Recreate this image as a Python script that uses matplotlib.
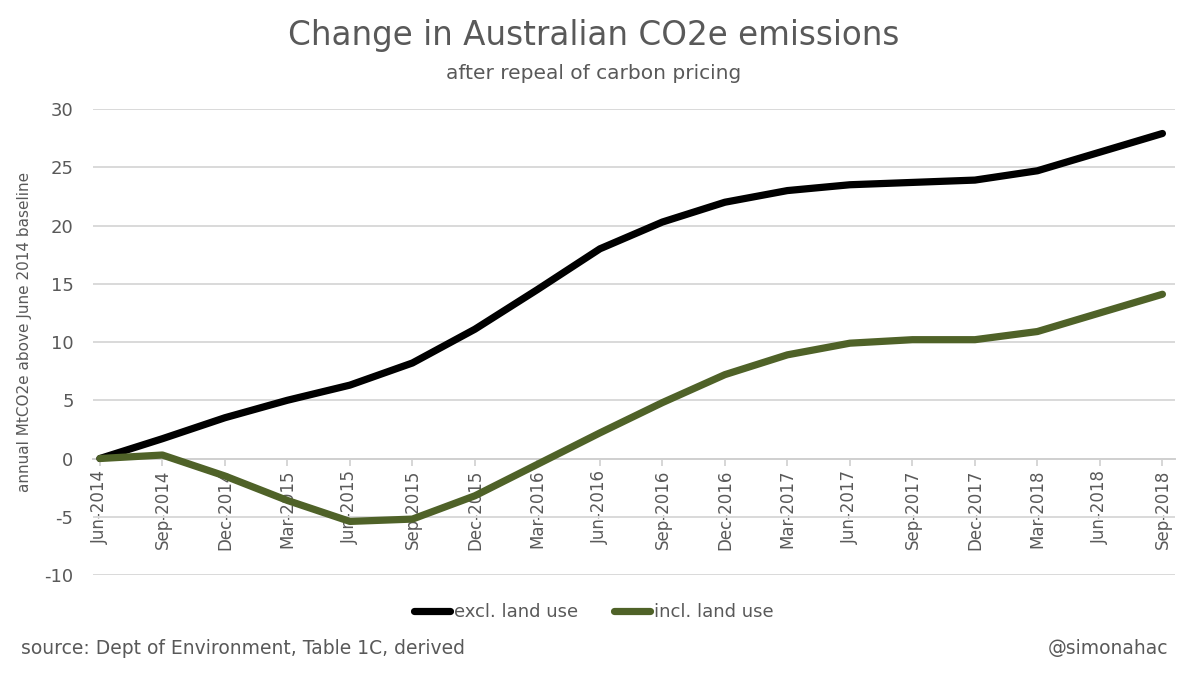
import numpy as np
import matplotlib.pyplot as plt

# quarters from Jun-2014 to Sep-2018
quarters = ['Jun-2014', 'Sep-2014', 'Dec-2014', 'Mar-2015', 'Jun-2015', 'Sep-2015',
            'Dec-2015', 'Mar-2016', 'Jun-2016', 'Sep-2016', 'Dec-2016', 'Mar-2017',
            'Jun-2017', 'Sep-2017', 'Dec-2017', 'Mar-2018', 'Jun-2018', 'Sep-2018']

# change in annual emissions (MtCO2e) vs June 2014
excl_land = [0.0, 1.7, 3.5, 5.0, 6.3, 8.2, 11.1, 14.5, 18.0, 20.3, 22.0, 23.0,
             23.5, 23.7, 23.9, 24.7, 26.3, 27.9]
incl_land = [0.0, 0.3, -1.5, -3.6, -5.4, -5.2, -3.2, -0.5, 2.2, 4.8, 7.2, 8.9,
             9.9, 10.2, 10.2, 10.9, 12.5, 14.1]

yticks = [-10, -5, 0, 5, 10, 15, 20, 25, 30]

grey = '#595959'
green = '#4f6228'

plt.rcParams['font.family'] = ['DejaVu Sans']

fig = plt.figure(figsize=(11.88, 6.78), dpi=100)
ax = fig.add_axes([0.0783, 0.1519, 0.9107, 0.6873])

x = np.arange(len(quarters))
ax.plot(x, excl_land, color='black', lw=5.2, solid_capstyle='round',
        solid_joinstyle='round', label='excl. land use', zorder=3)
ax.plot(x, incl_land, color=green, lw=5.2, solid_capstyle='round',
        solid_joinstyle='round', label='incl. land use', zorder=3)

ax.set_xlim(-0.11, 17.2)
ax.set_ylim(-10, 30)
ax.set_yticks(yticks)
ax.set_yticklabels([str(v) for v in yticks], fontsize=13, color=grey)
ax.grid(axis='y', color='#d9d9d9', lw=1.4)
ax.set_axisbelow(True)

for s in ['top', 'right', 'left']:
    ax.spines[s].set_visible(False)
ax.spines['bottom'].set_position(('data', 0))
ax.spines['bottom'].set_color('#d0d0d0')
ax.spines['bottom'].set_linewidth(1.4)

ax.set_xticks(x)
ax.set_xticklabels(quarters, rotation=90, fontsize=12, color=grey)
ax.tick_params(axis='x', length=5, width=1.2, color='#d0d0d0', pad=3)
ax.tick_params(axis='y', length=0, pad=14)

fig.text(0.021, 0.51, 'annual MtCO2e above June 2014 baseline', rotation=90,
         ha='center', va='center', fontsize=11, color=grey)

fig.text(0.5, 0.948, 'Change in Australian CO2e emissions', ha='center', va='center',
         fontsize=23.5, color=grey)
fig.text(0.5, 0.892, 'after repeal of carbon pricing', ha='center', va='center',
         fontsize=14.5, color=grey)

fig.legend(loc='center', bbox_to_anchor=(0.5, 0.097), ncol=2, frameon=False,
           fontsize=13, handlelength=2.0, handletextpad=0.2, columnspacing=2.0,
           labelcolor=grey)

fig.text(0.018, 0.044, 'source: Dept of Environment, Table 1C, derived', ha='left',
         va='center', fontsize=13.5, color=grey)
fig.text(0.983, 0.044, '@simonahac', ha='right', va='center', fontsize=13.5, color=grey)

fig.savefig('out.png', dpi=100)
